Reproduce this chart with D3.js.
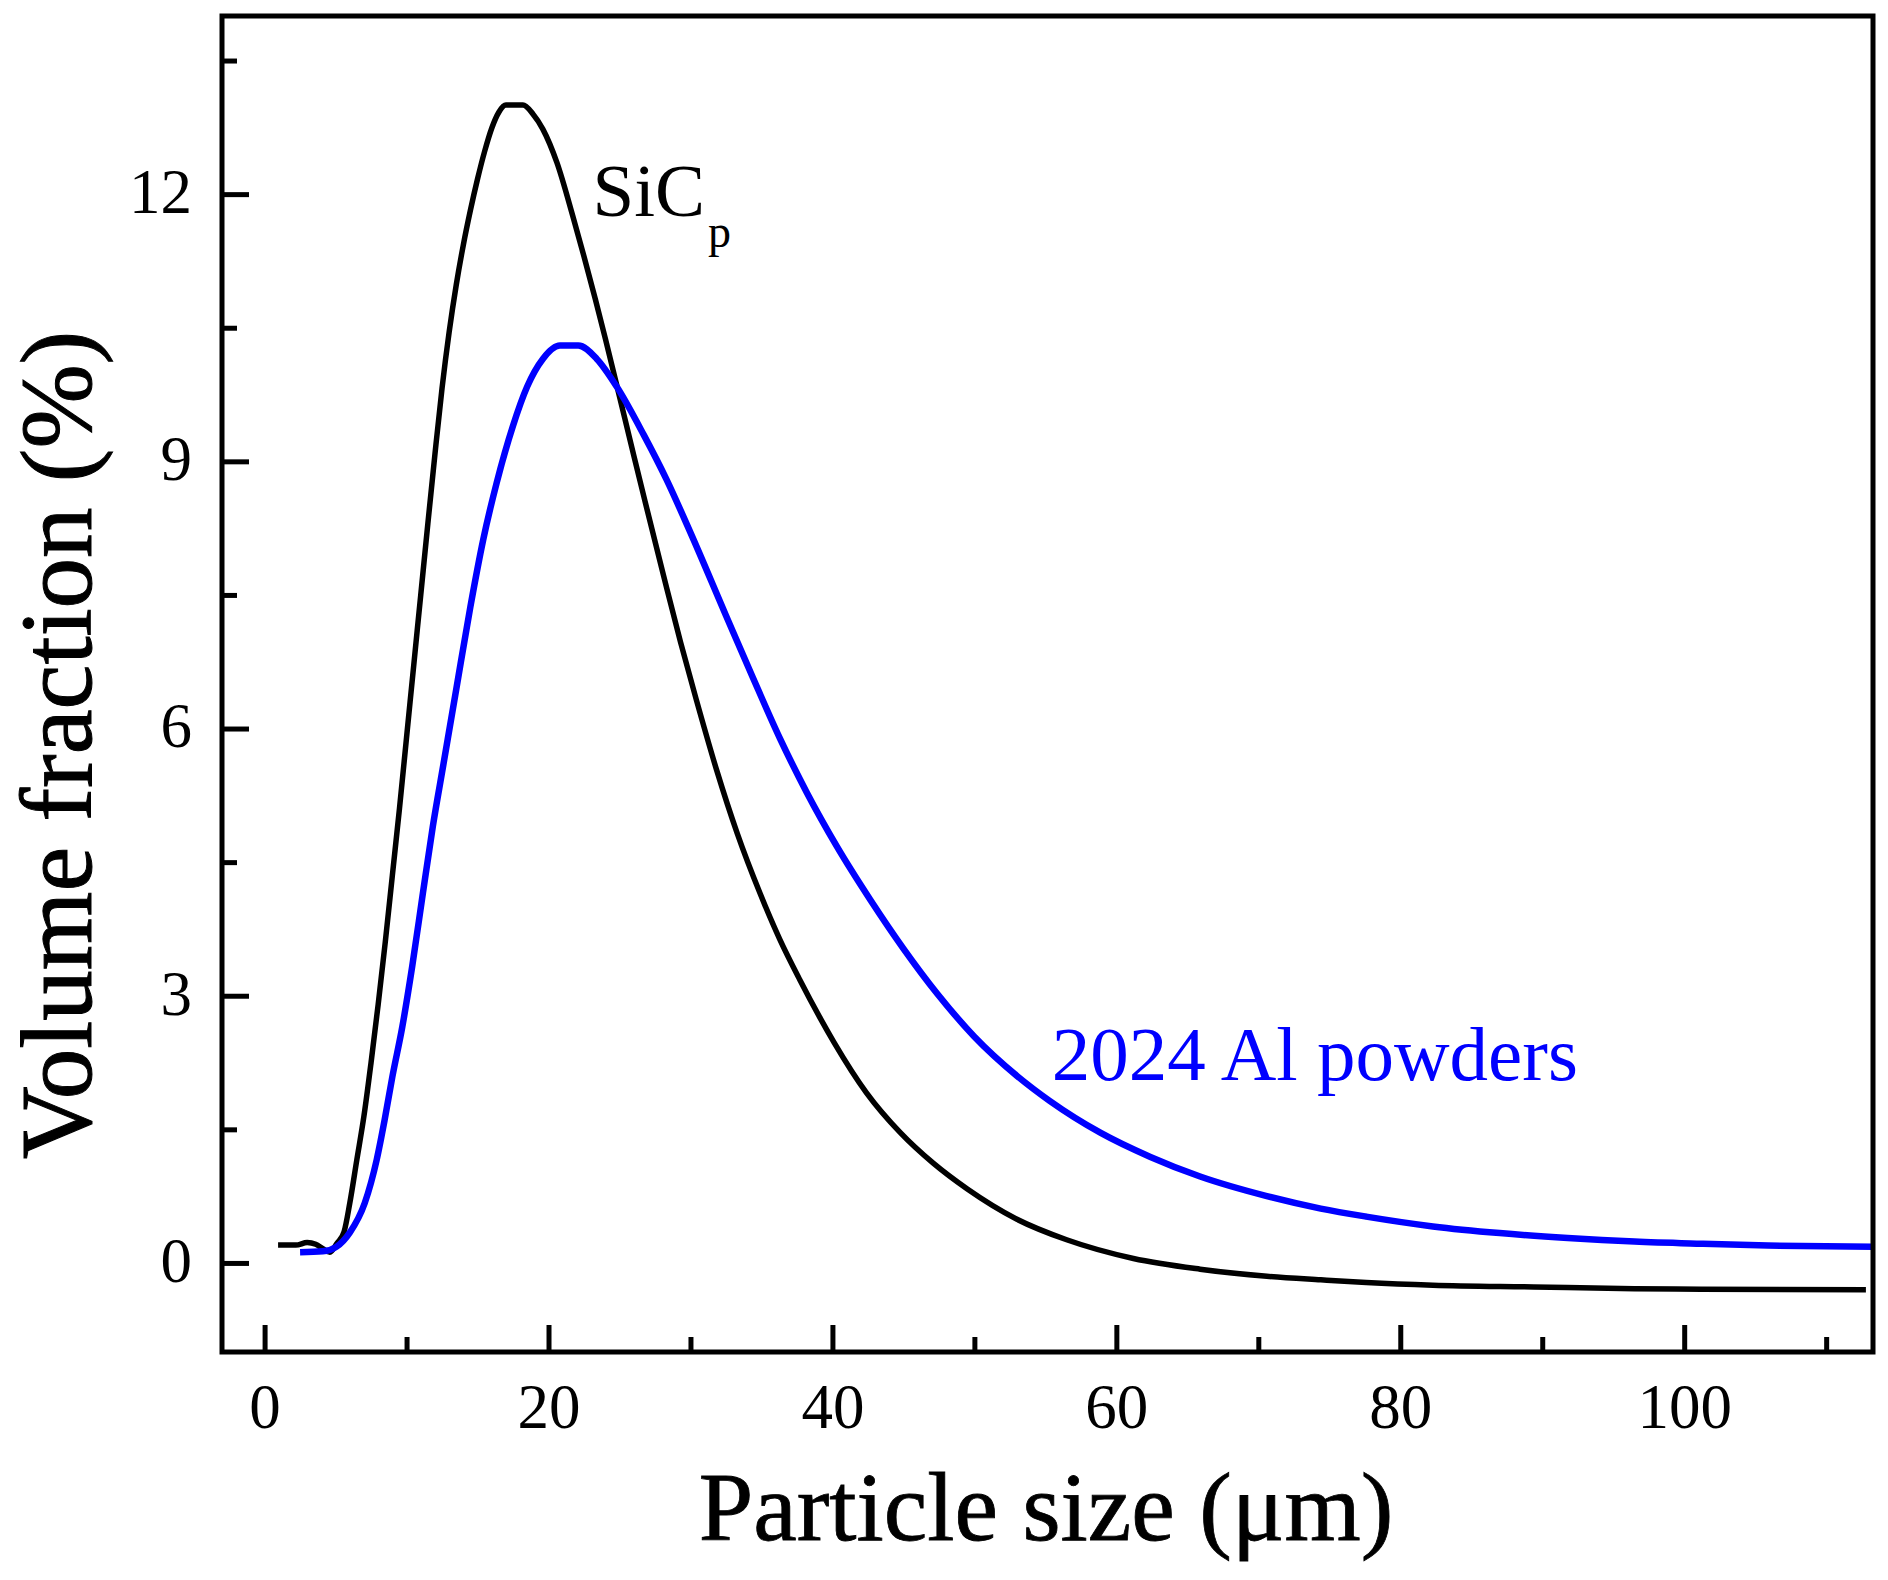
<!DOCTYPE html>
<html>
<head>
<meta charset="utf-8">
<script src="https://cdn.jsdelivr.net/npm/d3@7"></script>
<style>
  body { margin: 0; background: #fff; }
  text { font-family: "Liberation Serif", "Times New Roman", serif; }
</style>
</head>
<body>
<script>
// SiCp particle size distribution (size um, volume %)
const sicSize = [0.95, 2.2, 3.0, 3.6, 4.1, 4.6, 5.1, 5.6, 6.0, 6.5, 7.0, 7.5, 8.0, 8.5, 9.0, 9.5, 10.0,
  10.5, 11.0, 11.5, 12.0, 12.5, 13.0, 13.5, 14.0, 14.5, 15.0, 15.5, 16.0, 16.5, 17.0, 18.2, 18.9, 19.6,
  20.6, 21.7, 22.5, 23.3, 24.0, 24.8, 26.0, 26.8, 28.1, 29.3, 30.4, 31.85, 33.3, 34.9, 36.3, 37.7, 39.1, 40.1,
  42.4, 44.8, 47.1, 49.5, 53.0, 56.5, 61.2, 65.9, 70.6, 74.4, 77.6, 82.3, 89.4, 96.5, 101.2, 112.8];
const sicValue = [0.20, 0.20, 0.23, 0.21, 0.16, 0.12, 0.22, 0.35, 0.67, 1.16, 1.65, 2.25, 2.9, 3.6, 4.35, 5.1, 5.9,
  6.7, 7.5, 8.3, 9.08, 9.82, 10.45, 10.98, 11.43, 11.82, 12.17, 12.48, 12.74, 12.92, 13.0, 13.0, 12.9, 12.73,
  12.35, 11.76, 11.3, 10.82, 10.38, 9.86, 9.07, 8.55, 7.72, 6.97, 6.33, 5.53, 4.82, 4.15, 3.63, 3.18, 2.76, 2.48,
  1.91, 1.46, 1.12, 0.83, 0.49, 0.26, 0.05, -0.07, -0.15, -0.19, -0.22, -0.25, -0.27, -0.29, -0.295, -0.30];

// 2024 Al powders
const alSize = [2.5, 4.1, 5.05, 6.0, 7.05, 7.9, 8.45, 9.0, 9.7, 10.4, 11.15, 11.85, 12.6, 13.5, 14.5, 15.4,
  16.35, 17.5, 18.5, 19.6, 20.8, 22.1, 23.4, 24.8, 26.7, 28.3, 30.0, 32.5, 34.4, 36.3, 38.2, 40.3, 42.7,
  45.0, 47.4, 50.0, 53.0, 55.3, 58.9, 62.4, 65.9, 70.6, 74.4, 77.6, 82.3, 87.0, 91.8, 96.5, 101.2, 105.9, 113.5];
const alValue = [0.12, 0.13, 0.18, 0.34, 0.67, 1.16, 1.6, 2.09, 2.65, 3.33, 4.15, 4.9, 5.6, 6.44, 7.37, 8.12,
  8.76, 9.4, 9.84, 10.15, 10.3, 10.3, 10.15, 9.84, 9.3, 8.8, 8.2, 7.27, 6.57, 5.89, 5.28, 4.68, 4.07,
  3.53, 3.02, 2.54, 2.1, 1.82, 1.46, 1.19, 0.97, 0.75, 0.61, 0.52, 0.41, 0.335, 0.28, 0.24, 0.215, 0.195, 0.18];

const xMajor = [0, 20, 40, 60, 80, 100];
const xMinor = [10, 30, 50, 70, 90, 110];
const yMajor = [0, 3, 6, 9, 12];
const yMinor = [1.5, 4.5, 7.5, 10.5, 13.5];

const width = 1888, height = 1580;
const plotLeft = 222, plotRight = 1873, plotTop = 16, plotBottom = 1352;

const x = d3.scaleLinear().domain([-3, 113.3]).range([plotLeft, plotRight]);
const y = d3.scaleLinear().domain([-1, 14]).range([plotBottom, plotTop]);

const svg = d3.select("body").append("svg")
  .attr("width", width)
  .attr("height", height)
  .style("background", "#fff");

svg.append("defs").append("clipPath").attr("id", "plot")
  .append("rect")
  .attr("x", plotLeft).attr("y", plotTop)
  .attr("width", plotRight - plotLeft).attr("height", plotBottom - plotTop);

// curves
const line = d3.line()
  .x(d => x(d[0]))
  .y(d => y(d[1]))
  .curve(d3.curveMonotoneX);
const sic = d3.zip(sicSize, sicValue);
const al = d3.zip(alSize, alValue);

svg.append("path")
  .datum(sic)
  .attr("clip-path", "url(#plot)")
  .attr("d", line)
  .attr("fill", "none")
  .attr("stroke", "#000")
  .attr("stroke-width", 5.5)
  .attr("stroke-linejoin", "round");

svg.append("path")
  .datum(al)
  .attr("clip-path", "url(#plot)")
  .attr("d", line)
  .attr("fill", "none")
  .attr("stroke", "#0000ff")
  .attr("stroke-width", 6.5)
  .attr("stroke-linejoin", "round");

// axes, ticks pointing inward
const gx = svg.append("g").attr("transform", `translate(0,${plotBottom})`)
  .call(d3.axisBottom(x).tickValues(xMajor).tickSize(-27).tickPadding(0));
const gxm = svg.append("g").attr("transform", `translate(0,${plotBottom})`)
  .call(d3.axisBottom(x).tickValues(xMinor).tickSize(-15).tickFormat(""));
const gy = svg.append("g").attr("transform", `translate(${plotLeft},0)`)
  .call(d3.axisLeft(y).tickValues(yMajor).tickSize(-27).tickPadding(30));
const gym = svg.append("g").attr("transform", `translate(${plotLeft},0)`)
  .call(d3.axisLeft(y).tickValues(yMinor).tickSize(-15).tickFormat(""));

[gx, gxm, gy, gym].forEach(g => {
  g.select(".domain").remove();
  g.selectAll(".tick line").attr("stroke", "#000").attr("stroke-width", 5);
});

gx.selectAll(".tick text")
  .attr("y", 76)
  .attr("dy", 0)
  .style("font-size", "63px")
  .attr("fill", "#000");

gy.selectAll(".tick text")
  .attr("dy", "0.29em")
  .style("font-size", "63px")
  .attr("fill", "#000");

// frame
svg.append("rect")
  .attr("x", plotLeft).attr("y", plotTop)
  .attr("width", plotRight - plotLeft).attr("height", plotBottom - plotTop)
  .attr("fill", "none")
  .attr("stroke", "#000")
  .attr("stroke-width", 5);

// axis titles
svg.append("text")
  .attr("x", 1046).attr("y", 1540)
  .attr("text-anchor", "middle")
  .style("font-size", "98px")
  .attr("stroke", "#000").attr("stroke-width", 0.8)
  .text("Particle size (μm)");

svg.append("text")
  .attr("transform", "translate(91,745) rotate(-90)")
  .attr("text-anchor", "middle")
  .style("font-size", "101px")
  .attr("stroke", "#000").attr("stroke-width", 1)
  .text("Volume fraction (%)");

// curve labels
const sicLabel = svg.append("text")
  .attr("x", x(23.1)).attr("y", y(11.75))
  .style("font-size", "75px");
sicLabel.append("tspan").text("SiC");
sicLabel.append("tspan")
  .attr("dx", 3).attr("dy", 31)
  .style("font-size", "46px")
  .text("p");

svg.append("text")
  .attr("x", x(55.45)).attr("y", y(2.05))
  .attr("fill", "#0000ff")
  .style("font-size", "77px")
  .text("2024 Al powders");
</script>
</body>
</html>
